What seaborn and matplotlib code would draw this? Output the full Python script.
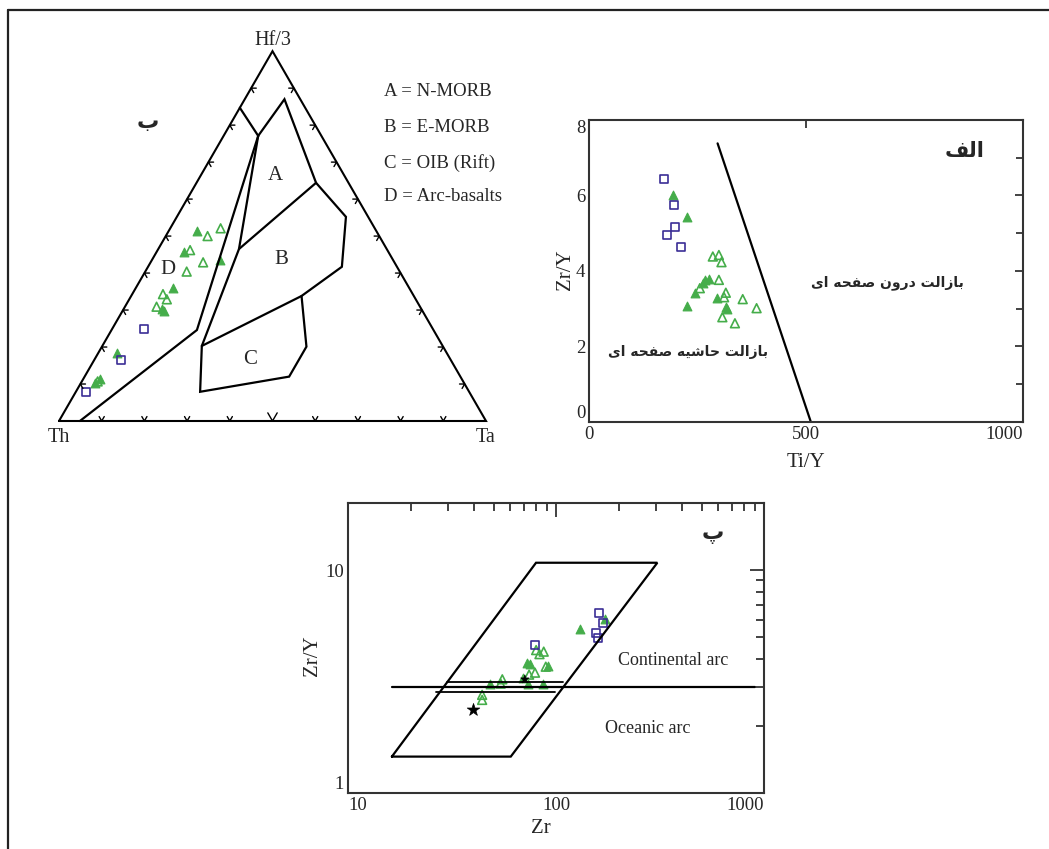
import numpy as np
import matplotlib
matplotlib.use("Agg")
import matplotlib.pyplot as plt
import seaborn as sns
from matplotlib.lines import Line2D
from matplotlib.ticker import FixedLocator, FixedFormatter, NullFormatter

sns.set_theme(style="white")
plt.rcParams["font.family"] = ["Liberation Serif", "DejaVu Sans"]

# ---------------- data ----------------
# Ternary Th - Hf/3 - Ta (fractions)
tern_green_filled_th = [0.420, 0.478, 0.406, 0.553, 0.608, 0.605, 0.771, 0.848, 0.865]
tern_green_filled_hf = [0.515, 0.458, 0.434, 0.359, 0.302, 0.298, 0.185, 0.113, 0.102]
tern_green_filled_ta = [0.065, 0.064, 0.160, 0.088, 0.090, 0.097, 0.044, 0.039, 0.033]

tern_green_open_th = [0.402, 0.361, 0.462, 0.448, 0.499, 0.585, 0.583, 0.617, 0.856]
tern_green_open_hf = [0.500, 0.521, 0.462, 0.429, 0.404, 0.343, 0.329, 0.309, 0.107]
tern_green_open_ta = [0.098, 0.118, 0.076, 0.123, 0.097, 0.072, 0.088, 0.074, 0.037]

tern_blue_th = [0.676, 0.773, 0.897]
tern_blue_hf = [0.249, 0.165, 0.079]
tern_blue_ta = [0.075, 0.062, 0.024]

# field boundaries (Th, Hf/3, Ta)
tern_lines = [
    [(0.153, 0.847, 0.000), (0.148, 0.771, 0.081)],
    [(0.148, 0.771, 0.081), (0.554, 0.246, 0.200), (0.951, 0.000, 0.049)],
    [(0.148, 0.771, 0.081), (0.037, 0.870, 0.093), (0.076, 0.644, 0.280),
     (0.052, 0.552, 0.396), (0.129, 0.417, 0.454), (0.263, 0.338, 0.399),
     (0.564, 0.203, 0.233)],
    [(0.148, 0.771, 0.081), (0.346, 0.465, 0.189), (0.564, 0.203, 0.233),
     (0.630, 0.079, 0.291), (0.401, 0.120, 0.479), (0.320, 0.201, 0.479),
     (0.263, 0.338, 0.399)],
    [(0.076, 0.644, 0.280), (0.346, 0.465, 0.189)],
]
field_names = ["A", "B", "C", "D"]
field_pos = [(0.506, 0.576), (0.5215, 0.377), (0.447, 0.143), (0.2553, 0.3536)]
legend_lines = ["A = N-MORB", "B = E-MORB", "C = OIB (Rift)", "D = Arc-basalts"]

# Ti/Y vs Zr/Y
tiy_sq = [173, 195, 197, 179, 211]
zry_sq = [6.44, 5.75, 5.16, 4.96, 4.64]
tiy_gf = [194, 226, 225, 245, 262, 267, 277, 294, 315, 318]
zry_gf = [6.01, 5.42, 3.07, 3.41, 3.69, 3.76, 3.78, 3.27, 3.05, 3.00]
tiy_go = [285, 299, 305, 299, 315, 311, 307, 336, 354, 386, 255]
zry_go = [4.38, 4.42, 4.23, 3.76, 3.42, 3.30, 2.77, 2.61, 3.25, 3.01, 3.54]
div_tiy = [296, 511]
div_zry = [7.38, 0.0]

# Zr vs Zr/Y
zr_sq = [161, 167, 155, 159, 79]
zrzy_sq = [6.44, 5.77, 5.21, 4.94, 4.62]
zr_gf = [130, 172, 72, 75, 91, 69, 48, 73, 86]
zrzy_gf = [5.44, 6.02, 3.82, 3.78, 3.73, 3.27, 3.09, 3.09, 3.09]
zr_go = [80, 87, 83, 89, 79, 74, 55, 54, 44, 44]
zrzy_go = [4.38, 4.31, 4.20, 3.69, 3.47, 3.40, 3.24, 3.10, 2.76, 2.62]
zr_star = [40, 70.6]
zrzy_star = [2.36, 3.24]
para_zr = [16.2, 60.4, 306, 79.9, 16.2]
para_zrzy = [1.46, 1.46, 10.78, 10.78, 1.46]
hline_zr = [16.2, 900]
hline_zrzy = [2.98, 2.98]
sub_lines_zr = [[29.7, 108], [26.5, 99]]
sub_lines_zrzy = [[3.16, 3.16], [2.83, 2.83]]

GREEN = "#45ad4a"
BLUE = "#3b2e96"

# ---------------- Arabic / Persian shaping ----------------
FORMS = {
    'ا': ('\uFE8D', '\uFE8E', None, None),
    'ب': ('\uFE8F', '\uFE90', '\uFE91', '\uFE92'),
    'پ': ('\uFB56', '\uFB57', '\uFB58', '\uFB59'),
    'ت': ('\uFE95', '\uFE96', '\uFE97', '\uFE98'),
    'ح': ('\uFEA1', '\uFEA2', '\uFEA3', '\uFEA4'),
    'د': ('\uFEA9', '\uFEAA', None, None),
    'ر': ('\uFEAD', '\uFEAE', None, None),
    'ز': ('\uFEAF', '\uFEB0', None, None),
    'ش': ('\uFEB5', '\uFEB6', '\uFEB7', '\uFEB8'),
    'ص': ('\uFEB9', '\uFEBA', '\uFEBB', '\uFEBC'),
    'ف': ('\uFED1', '\uFED2', '\uFED3', '\uFED4'),
    'ل': ('\uFEDD', '\uFEDE', '\uFEDF', '\uFEE0'),
    'ن': ('\uFEE5', '\uFEE6', '\uFEE7', '\uFEE8'),
    'ه': ('\uFEE9', '\uFEEA', '\uFEEB', '\uFEEC'),
    'و': ('\uFEED', '\uFEEE', None, None),
    'ی': ('\uFBFC', '\uFBFD', '\uFBFE', '\uFBFF'),
}


def shape(s):
    out = []
    n = len(s)
    for i, c in enumerate(s):
        if c not in FORMS:
            out.append(c)
            continue
        f = FORMS[c]
        prev = s[i - 1] if i > 0 else None
        nxt = s[i + 1] if i < n - 1 else None
        jp = prev in FORMS and FORMS[prev][2] is not None
        jn = f[2] is not None and nxt in FORMS
        if jp and jn:
            out.append(f[3])
        elif jp:
            out.append(f[1])
        elif jn:
            out.append(f[2])
        else:
            out.append(f[0])
    return "".join(reversed(out))


AR = ["DejaVu Sans"]

# ---------------- figure ----------------
W, H = 1049, 849
fig = plt.figure(figsize=(W / 100, H / 100), dpi=100)


def rect(l, t, r, b):
    return [l / W, 1 - b / H, (r - l) / W, (b - t) / H]


# border lines (top and left)
fig.add_artist(Line2D([8 / W, 1], [1 - 9.5 / H] * 2, color="#222222", lw=1.6,
                      transform=fig.transFigure))
fig.add_artist(Line2D([8 / W] * 2, [0, 1 - 9.5 / H], color="#222222", lw=1.6,
                      transform=fig.transFigure))

# ---------------- ternary ----------------
S3 = np.sqrt(3) / 2


def tern(th, hf, ta):
    th, hf, ta = map(np.asarray, (th, hf, ta))
    s = th + hf + ta
    return (ta + hf / 2) / s, hf * S3 / s


axT = fig.add_axes(rect(16.3, 15.3, 528.7, 463.7))
axT.set_xlim(-0.1, 1.1)
axT.set_ylim(-0.1, 0.95)
axT.axis("off")

axT.plot([0, 1, 0.5, 0], [0, 0, S3, 0], color="black", lw=1.5, solid_joinstyle="miter")

# chevron ticks
sides = [((0, 0), (1, 0), (60, 120)),
         ((0, 0), (0.5, S3), (0, -60)),
         ((1, 0), (0.5, S3), (180, 240))]
for (a, b, angs) in sides:
    for k in range(1, 10):
        t = k / 10
        px = a[0] + t * (b[0] - a[0])
        py = a[1] + t * (b[1] - a[1])
        L = 0.022 if (k == 5 and angs == (60, 120)) else 0.012
        xs = [px + L * np.cos(np.radians(angs[0])), px, px + L * np.cos(np.radians(angs[1]))]
        ys = [py + L * np.sin(np.radians(angs[0])), py, py + L * np.sin(np.radians(angs[1]))]
        axT.plot(xs, ys, color="black", lw=1.0)

for line in tern_lines:
    th, hf, ta = zip(*line)
    x, y = tern(th, hf, ta)
    axT.plot(x, y, color="black", lw=1.6, solid_joinstyle="miter")

x, y = tern(tern_green_filled_th, tern_green_filled_hf, tern_green_filled_ta)
sns.scatterplot(x=x, y=y, marker="^", s=40, color=GREEN, edgecolor=GREEN, linewidth=0.8, ax=axT)
x, y = tern(tern_green_open_th, tern_green_open_hf, tern_green_open_ta)
sns.scatterplot(x=x, y=y, marker="^", s=40, color=GREEN, facecolor="none", edgecolor=GREEN,
                linewidth=1.2, ax=axT)
x, y = tern(tern_blue_th, tern_blue_hf, tern_blue_ta)
sns.scatterplot(x=x, y=y, marker="s", s=32, color=BLUE, facecolor="none", edgecolor=BLUE,
                linewidth=1.2, ax=axT)

axT.text(0.5, 0.892, "Hf/3", ha="center", va="center", fontsize=14.5)
axT.text(0.0, -0.0375, "Th", ha="center", va="center", fontsize=14.5)
axT.text(1.0, -0.0375, "Ta", ha="center", va="center", fontsize=14.5)
for name, (fx_, fy_) in zip(field_names, field_pos):
    axT.text(fx_, fy_, name, ha="center", va="center", fontsize=15)
for txt, yy in zip(legend_lines, [0.7705, 0.6878, 0.6042, 0.5246]):
    axT.text(0.761, yy, txt, ha="left", va="center", fontsize=13.5)
axT.text(0.2085, 0.7002, shape("ب"), ha="center", va="center", fontsize=16,
         family=AR, fontweight="bold")

# ---------------- Ti/Y vs Zr/Y ----------------
ax2 = fig.add_axes(rect(589.3, 120, 1022.7, 421.7))
ax2.plot(div_tiy, div_zry, color="black", lw=1.6)
sns.scatterplot(x=tiy_gf, y=zry_gf, marker="^", s=40, color=GREEN, edgecolor=GREEN,
                linewidth=0.8, ax=ax2)
sns.scatterplot(x=tiy_go, y=zry_go, marker="^", s=40, color=GREEN, facecolor="none",
                edgecolor=GREEN, linewidth=1.2, ax=ax2)
sns.scatterplot(x=tiy_sq, y=zry_sq, marker="s", s=32, color=BLUE, facecolor="none",
                edgecolor=BLUE, linewidth=1.2, ax=ax2)
ax2.set_xlim(0, 1000)
ax2.set_ylim(0, 8)
ax2.xaxis.set_major_locator(FixedLocator([0, 500, 1000]))
ax2.xaxis.set_major_formatter(FixedFormatter(["0", "500", "1000"]))
ax2.yaxis.set_major_locator(FixedLocator([0, 2, 4, 6, 8]))
ax2.yaxis.set_major_formatter(FixedFormatter(["0", "2", "4", "6", "8"]))
ax2.yaxis.set_minor_locator(FixedLocator([1, 3, 5, 7]))
ax2.tick_params(which="both", direction="in", top=True, right=True, width=1.2,
                color="#222222", labelsize=13.5, pad=3)
ax2.tick_params(which="major", length=6)
ax2.tick_params(which="minor", length=5)
for sp in ax2.spines.values():
    sp.set_color("#333333")
    sp.set_linewidth(1.5)
ax2.set_xlabel("Ti/Y", fontsize=15)
ax2.set_ylabel("Zr/Y", fontsize=15)
ax2.xaxis.label.set_va("center")
ax2.yaxis.label.set_va("center")
ax2.xaxis.set_label_coords(0.5, -0.134)
ax2.yaxis.set_label_coords(-0.054, 0.503)
xt2 = ax2.xaxis.get_major_ticks()
xt2[-1].label1.set_ha("right")
yt2 = ax2.yaxis.get_major_ticks()
yt2[0].label1.set_va("bottom")
yt2[-1].label1.set_va("top")
ax2.text(0.865, 0.897, shape("الف"), transform=ax2.transAxes, ha="center", va="center",
         fontsize=15, family=AR, fontweight="bold")
ax2.text(0.689, 0.462, shape("بازالت درون صفحه ای"), transform=ax2.transAxes,
         ha="center", va="center", fontsize=10, family=AR, fontweight="bold")
ax2.text(0.228, 0.231, shape("بازالت حاشیه صفحه ای"), transform=ax2.transAxes,
         ha="center", va="center", fontsize=10, family=AR, fontweight="bold")

# ---------------- Zr vs Zr/Y ----------------
ax3 = fig.add_axes(rect(348.3, 503.3, 764.3, 793.3))
ax3.set_xscale("log")
ax3.set_yscale("log")
ax3.plot(para_zr, para_zrzy, color="black", lw=1.6, solid_joinstyle="miter")
ax3.plot(hline_zr, hline_zrzy, color="black", lw=1.6)
for xs, ys in zip(sub_lines_zr, sub_lines_zrzy):
    ax3.plot(xs, ys, color="black", lw=1.3)
sns.scatterplot(x=zr_gf, y=zrzy_gf, marker="^", s=40, color=GREEN, edgecolor=GREEN,
                linewidth=0.8, ax=ax3)
sns.scatterplot(x=zr_go, y=zrzy_go, marker="^", s=40, color=GREEN, facecolor="none",
                edgecolor=GREEN, linewidth=1.2, ax=ax3)
sns.scatterplot(x=zr_sq, y=zrzy_sq, marker="s", s=32, color=BLUE, facecolor="none",
                edgecolor=BLUE, linewidth=1.2, ax=ax3)
sns.scatterplot(x=zr_star, y=zrzy_star, marker="*", s=[90, 40], color="black",
                edgecolor="black", linewidth=0.5, ax=ax3, legend=False)
ax3.set_xlim(10, 1000)
ax3.set_ylim(1, 19.9)
ax3.xaxis.set_major_locator(FixedLocator([10, 100, 1000]))
ax3.xaxis.set_major_formatter(FixedFormatter(["10", "100", "1000"]))
ax3.xaxis.set_minor_locator(FixedLocator([20, 30, 40, 50, 60, 70, 80, 90,
                                          200, 300, 400, 500, 600, 700, 800, 900]))
ax3.xaxis.set_minor_formatter(NullFormatter())
ax3.yaxis.set_major_locator(FixedLocator([1, 10]))
ax3.yaxis.set_major_formatter(FixedFormatter(["1", "10"]))
ax3.yaxis.set_minor_locator(FixedLocator([2, 3, 4, 5, 6, 7, 8, 9, 20]))
ax3.yaxis.set_minor_formatter(NullFormatter())
ax3.tick_params(which="both", direction="in", top=True, right=True, width=1.2,
                color="#222222", labelsize=13.5, pad=3)
ax3.tick_params(which="major", length=10)
ax3.tick_params(which="minor", length=6)
for sp in ax3.spines.values():
    sp.set_color("#333333")
    sp.set_linewidth(1.5)
ax3.set_xlabel("Zr", fontsize=15)
ax3.set_ylabel("Zr/Y", fontsize=15)
ax3.xaxis.label.set_va("center")
ax3.yaxis.label.set_va("center")
ax3.xaxis.set_label_coords(0.462, -0.12)
ax3.yaxis.set_label_coords(-0.085, 0.476)
xt3 = ax3.xaxis.get_major_ticks()
xt3[0].label1.set_ha("left")
xt3[-1].label1.set_ha("right")
yt3 = ax3.yaxis.get_major_ticks()
yt3[0].label1.set_va("bottom")
ax3.text(0.782, 0.458, "Continental arc", transform=ax3.transAxes, ha="center",
         va="center", fontsize=13)
ax3.text(0.721, 0.225, "Oceanic arc", transform=ax3.transAxes, ha="center",
         va="center", fontsize=13)
ax3.text(0.877, 0.893, shape("پ"), transform=ax3.transAxes, ha="center", va="center",
         fontsize=16, family=AR, fontweight="bold")

for a in (axT, ax2, ax3):
    lg = a.get_legend()
    if lg is not None:
        lg.remove()

fig.savefig("out.png", dpi=100, facecolor="white")
